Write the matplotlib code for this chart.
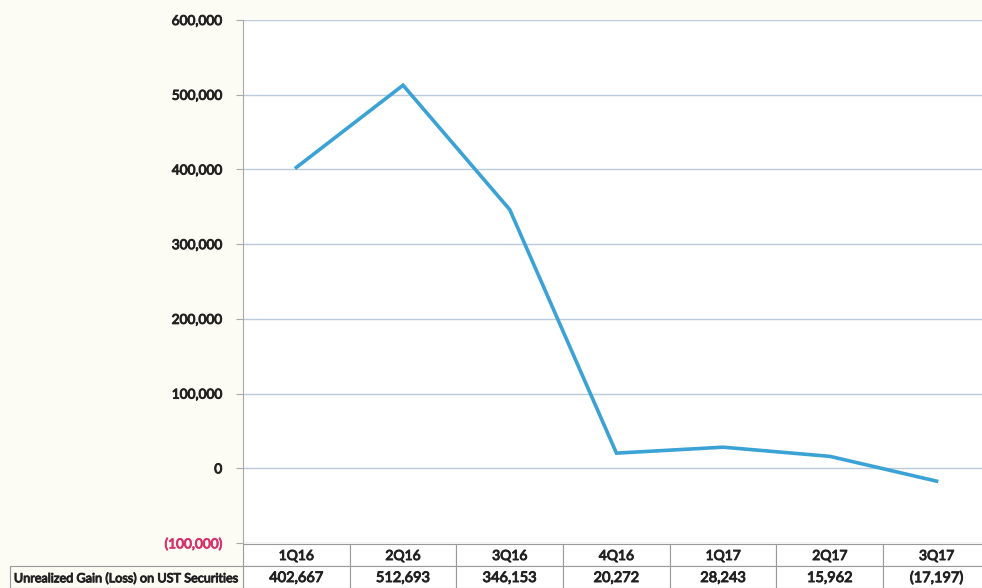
import matplotlib
matplotlib.use("Agg")
import matplotlib.pyplot as plt
import matplotlib.patheffects as pe
from matplotlib.patches import Rectangle
from matplotlib.ticker import FuncFormatter

quarters = ["1Q16", "2Q16", "3Q16", "4Q16", "1Q17", "2Q17", "3Q17"]
values = [402667, 512693, 346153, 20272, 28243, 15962, -17197]
value_labels = ["402,667", "512,693", "346,153", "20,272", "28,243", "15,962", "(17,197)"]
row_label = "Unrealized Gain (Loss) on UST Securities"
yticks = [-100000, 0, 100000, 200000, 300000, 400000, 500000, 600000]

FONT = ["Lato", "DejaVu Sans"]
W, H = 982, 588
bg = "#fcfbf4"
txt = "#222222"
fig = plt.figure(figsize=(W / 100, H / 100), dpi=100, facecolor=bg)


def bold(color):
    return [pe.withStroke(linewidth=0.7, foreground=color)]


col_w = 106.7
ax_left, ax_top, ax_bot = 243, 20, 543
ax = fig.add_axes([ax_left / W, (H - ax_bot) / H, 7 * col_w / W, (ax_bot - ax_top) / H])
ax.set_facecolor("white")
x = list(range(len(quarters)))
ax.plot(x, values, color="#3aa2d4", lw=2.6, solid_joinstyle="miter", zorder=3)
ax.set_xlim(-0.5, 6.5)
ax.set_ylim(-100000, 600000)
ax.set_yticks(yticks)
ax.yaxis.set_major_formatter(FuncFormatter(lambda v, p: f"({abs(int(v)):,})" if v < 0 else f"{int(v):,}"))
for t in ax.get_yticklabels():
    c = "#d6336c" if t.get_text().startswith("(") else txt
    t.set_fontfamily(FONT)
    t.set_fontsize(9.8)
    t.set_color(c)
    t.set_path_effects(bold(c))
ax.set_xticks([])
ax.grid(axis="y", color="#bccbdb", lw=1.0, zorder=1)
for s in ["top", "right", "bottom"]:
    ax.spines[s].set_visible(False)
ax.spines["left"].set_color("#a9a9a9")
ax.tick_params(axis="y", length=5, color="#a9a9a9", pad=10)

# table
tax = fig.add_axes([0, 0, 1, (H - ax_bot) / H])
tax.set_xlim(0, W)
tax.set_ylim(H, ax_bot)
tax.axis("off")
tax.set_facecolor("none")
r1, r2, r3 = 544, 566, 588
ec = "#9a9a9a"
for i, (q, v) in enumerate(zip(quarters, value_labels)):
    x0 = ax_left + i * col_w
    tax.add_patch(Rectangle((x0, r1), col_w, r2 - r1, fc="white", ec=ec, lw=0.8, clip_on=False))
    tax.add_patch(Rectangle((x0, r2), col_w, r3 - r2, fc="white", ec=ec, lw=0.8, clip_on=False))
    tax.text(x0 + col_w / 2, (r1 + r2) / 2 + 1, q, ha="center", va="center", fontsize=10,
             family=FONT, color=txt, path_effects=bold(txt))
    tax.text(x0 + col_w / 2, (r2 + r3) / 2 + 1, v, ha="center", va="center", fontsize=10.5,
             family=FONT, color=txt, path_effects=bold(txt))
tax.add_patch(Rectangle((10, r2), ax_left - 10, r3 - r2, fc=bg, ec=ec, lw=0.8, clip_on=False))
tax.text(ax_left - 4, (r2 + r3) / 2 + 1, row_label, ha="right", va="center", fontsize=9.1,
         family=FONT, color=txt, path_effects=bold(txt))

fig.savefig("out.png", dpi=100, facecolor=bg)
